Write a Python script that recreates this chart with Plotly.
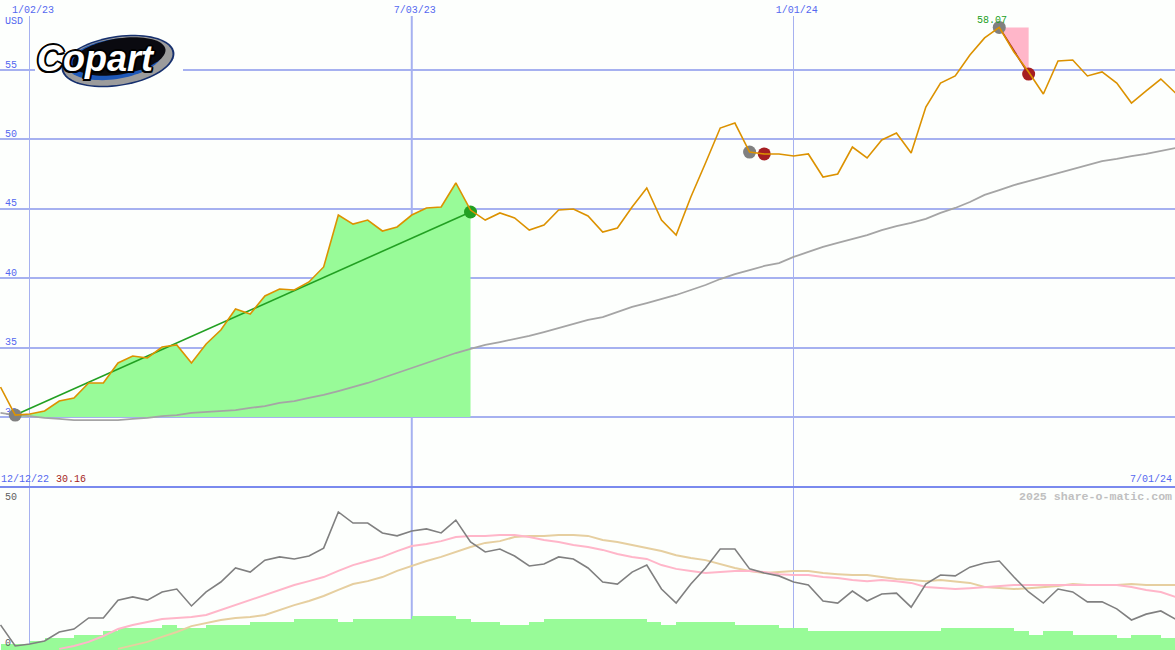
import numpy as np
import pandas as pd
import plotly.graph_objects as go

W, H = 1175, 650

dates = pd.date_range("2022-12-19", "2024-07-01", freq="7D")

price = [32.16,30.14,30.22,30.43,31.15,31.37,32.45,32.45,33.89,34.39,34.25,35.04,35.19,33.89,35.26,36.27,
         37.78,37.42,38.72,39.22,39.15,39.73,40.81,44.55,43.90,44.19,43.40,43.69,44.55,45.06,45.13,46.86,
         44.91,44.19,44.70,44.34,43.47,43.83,44.91,44.99,44.48,43.33,43.62,45.13,46.50,44.19,43.11,45.85,
         48.30,50.82,51.18,49.09,48.95,48.95,48.80,48.95,47.29,47.51,49.45,48.66,49.96,50.46,49.02,52.33,
         54.06,54.57,56.08,57.31,58.07,56.30,54.86,53.27,55.65,55.72,54.57,54.86,54.06,52.62,53.49,54.35,53.34]

long_ma = [30.29,30.14,30.07,29.93,29.86,29.78,29.78,29.78,29.78,29.86,29.93,30.07,30.14,30.29,30.36,30.43,
           30.50,30.65,30.79,31.01,31.15,31.37,31.59,31.87,32.16,32.45,32.81,33.17,33.53,33.89,34.25,34.61,
           34.90,35.19,35.40,35.62,35.84,36.12,36.41,36.70,36.99,37.20,37.56,37.93,38.21,38.50,38.79,39.15,
           39.51,39.94,40.30,40.59,40.88,41.09,41.53,41.89,42.25,42.54,42.82,43.11,43.47,43.76,43.98,44.27,
           44.70,45.06,45.49,46.00,46.35,46.71,47.00,47.29,47.58,47.87,48.16,48.44,48.59,48.80,48.95,49.16,49.38]

osc = [7.9,0.7,1.4,2.4,5.5,6.5,10.3,10.3,16.4,17.5,16.4,19.2,20.2,14.4,19.2,22.6,
       27.4,26.0,30.1,31.2,30.5,31.5,34.2,46.6,42.8,42.8,39.4,38.4,40.1,40.8,39.4,43.8,
       36.3,32.9,33.9,31.5,28.1,28.8,31.2,30.5,27.4,22.6,21.9,26.0,28.4,20.2,15.4,21.9,
       27.4,33.9,33.9,27.1,25.7,24.7,22.6,21.6,16.1,15.4,19.5,16.1,18.5,18.8,14.0,21.9,
       25.0,24.7,27.7,29.1,29.8,24.3,19.2,15.4,20.2,19.2,15.8,15.8,13.4,9.6,11.6,12.7,9.9]

osc_fast = [None,None,None,None,-0.3,0.7,2.1,4.1,6.5,7.9,8.9,9.9,10.3,10.6,11.3,13.0,
            14.7,16.4,18.2,19.9,21.6,22.9,24.3,26.4,28.4,29.8,31.2,33.2,34.9,35.6,36.6,38.0,
            38.4,38.4,38.7,38.7,38.0,37.0,36.3,35.3,34.6,33.6,32.2,31.2,30.5,28.4,27.1,26.4,
            25.7,26.0,26.4,26.4,26.0,25.3,25.0,25.0,24.3,24.0,23.3,22.9,23.3,22.9,22.3,20.9,
            20.5,20.2,20.5,20.9,21.2,21.6,21.6,21.6,21.6,21.6,21.6,21.6,21.6,20.9,19.9,19.2,17.5]

osc_slow = [None,None,None,None,None,None,None,None,-0.3,1.0,2.1,3.8,5.5,7.5,8.6,9.6,
            10.3,10.6,11.3,13.0,14.7,16.1,17.8,19.9,21.9,22.9,24.3,26.4,28.1,29.8,31.2,32.9,
            34.6,36.0,36.6,38.0,38.4,38.4,38.7,38.7,38.4,37.0,36.3,35.3,34.2,33.2,31.8,30.8,
            30.1,28.8,27.4,26.4,25.7,26.0,26.4,26.4,25.7,25.3,25.0,25.0,24.3,23.6,23.3,22.9,
            23.3,22.9,22.3,20.9,20.5,20.2,20.5,20.9,21.2,21.9,21.6,21.6,21.6,21.9,21.6,21.6,21.6]

volume = [2,2,3,4,4,5,5,6,7,7,7,8,7,7,8,8,8,9,9,9,10,10,10,9,10,10,10,10,11,11,11,10,9,9,8,8,9,
          10,10,10,10,10,10,10,9,8,9,9,9,9,8,8,8,7,7,6,6,6,6,6,6,6,6,6,7,7,7,7,7,6,5,6,6,5,5,5,4,5,5,4]

gain_start, gain_end = 30.14, 44.77
sell_start, sell_end = 58.07, 54.71
flat_start, flat_end = 49.09, 48.95
fill_floor = 30.0
idx_gain = (1, 32)
idx_flat = (51, 52)
idx_drop = (68, 70)

price_ticks = [30, 35, 40, 45, 50, 55]
osc_ticks = [0, 50]
date_ticks = ["2023-01-02", "2023-07-03", "2024-01-01"]
date_labels = ["1/02/23", "7/03/23", "1/01/24"]

FONT = "Liberation Mono"
BG = "#FDFFFD"
GRID = "#A6B1F0"
BLUE = "#5468F0"
ORANGE = "#DC9200"
GREEN = "#22A022"
RED = "#A51E22"
GREY = "#808080"
PINK = "#FFB6C9"
TAN = "#E6CFA0"
FILL = "#98FB98"

def px(x):
    return x / W

def py(y):
    return 1 - y / H

dom_split = py(487)
dom_top = py(16)
x_range = [dates[0] - pd.Timedelta(hours=6), dates[-1] - pd.Timedelta(hours=6)]

fig = go.Figure()

# gain area
fig.add_trace(go.Scatter(x=dates[idx_gain[0]:idx_gain[1] + 1], y=[fill_floor] * (idx_gain[1] - idx_gain[0] + 1),
                         mode="lines", line=dict(width=0), hoverinfo="skip", showlegend=False))
fig.add_trace(go.Scatter(x=dates[idx_gain[0]:idx_gain[1] + 1], y=price[idx_gain[0]:idx_gain[1] + 1],
                         mode="lines", line=dict(width=0), fill="tonexty", fillcolor=FILL, showlegend=False))
# loss triangles
for i0, i1, a, b in [(*idx_drop, sell_start, price[idx_drop[1]]), (*idx_flat, flat_start, flat_end)]:
    fig.add_trace(go.Scatter(x=[dates[i0], dates[i1], dates[i1]], y=[a, a, b], mode="lines",
                             line=dict(width=0), fill="toself", fillcolor=PINK, showlegend=False))
fig.add_trace(go.Scatter(x=dates, y=long_ma, mode="lines", line=dict(color="#A5A5A5", width=1.8), showlegend=False))
fig.add_trace(go.Scatter(x=[dates[idx_gain[0]], dates[idx_gain[1]]], y=[gain_start, gain_end], mode="lines",
                         line=dict(color=GREEN, width=1.6), showlegend=False))
fig.add_trace(go.Scatter(x=[dates[idx_drop[0]], dates[idx_drop[1]]], y=[sell_start, sell_end], mode="lines",
                         line=dict(color=RED, width=1.6), showlegend=False))
fig.add_trace(go.Scatter(x=[dates[idx_gain[0]], dates[idx_flat[0]], dates[idx_drop[0]]],
                         y=[gain_start, flat_start, sell_start], mode="markers",
                         marker=dict(color=GREY, size=13), showlegend=False))
fig.add_trace(go.Scatter(x=[dates[idx_flat[1]], dates[idx_drop[1]]], y=[flat_end, sell_end], mode="markers",
                         marker=dict(color=RED, size=13), showlegend=False))
fig.add_trace(go.Scatter(x=[dates[idx_gain[1]]], y=[gain_end], mode="markers",
                         marker=dict(color=GREEN, size=13), showlegend=False))
fig.add_trace(go.Scatter(x=dates, y=price, mode="lines", line=dict(color=ORANGE, width=1.6), showlegend=False))

# lower panel: volume on the base axis, oscillators on the overlay above it
fig.add_trace(go.Bar(x=dates[:-1], y=volume, width=7 * 86400000, offset=0, marker=dict(color=FILL, line=dict(width=0)),
                     xaxis="x2", yaxis="y2", showlegend=False))
fig.add_trace(go.Scatter(x=dates, y=osc_slow, mode="lines", line=dict(color=TAN, width=2), xaxis="x2", yaxis="y3", showlegend=False))
fig.add_trace(go.Scatter(x=dates, y=osc_fast, mode="lines", line=dict(color=PINK, width=2), xaxis="x2", yaxis="y3", showlegend=False))
fig.add_trace(go.Scatter(x=dates, y=osc, mode="lines", line=dict(color=GREY, width=1.6), xaxis="x2", yaxis="y3", showlegend=False))

fig.update_layout(
    width=W, height=H, margin=dict(l=0, r=0, t=0, b=0),
    paper_bgcolor=BG, plot_bgcolor=BG, showlegend=False, bargap=0,
    font=dict(family=FONT, size=10, color=BLUE),
    xaxis=dict(domain=[0, 1], anchor="y", side="top", range=x_range, type="date",
               tickvals=date_ticks, ticktext=date_labels, ticks="", showgrid=True, gridcolor=GRID, gridwidth=1,
               ticklabelshift=3, tickfont=dict(family=FONT, size=10, color=BLUE), zeroline=False, showline=False),
    xaxis2=dict(domain=[0, 1], anchor="y2", matches="x", type="date", tickvals=date_ticks, showticklabels=False,
                ticks="", showgrid=True, gridcolor=GRID, gridwidth=1, zeroline=False, showline=False),
    yaxis=dict(domain=[dom_split, dom_top], anchor="x", range=[30 - 70 / 13.88, 30 + 401 / 13.88],
               tickvals=price_ticks, ticktext=[str(v) for v in price_ticks], ticks="", ticklabelposition="inside",
               ticklabelshift=-6, ticklabelstandoff=2, layer="below traces",
               showgrid=True, gridcolor=GRID, gridwidth=2, zeroline=False, showline=False,
               tickfont=dict(family=FONT, size=10, color=BLUE)),
    yaxis2=dict(domain=[0, dom_split], anchor="x2", range=[0, 163 / 3.1], visible=False),
    yaxis3=dict(domain=[0, dom_split], anchor="x2", overlaying="y2", range=[-0.68, 55.14], tickvals=osc_ticks,
                ticktext=[str(v) for v in osc_ticks], ticks="", ticklabelposition="inside", ticklabelshift=-6,
                ticklabelstandoff=2, showgrid=False, zeroline=False, showline=False,
                tickfont=dict(family=FONT, size=10, color="#606060")),
)

shapes = [
    dict(type="line", xref="x", yref="paper", x0=date_ticks[1], x1=date_ticks[1], y0=0, y1=dom_top,
         line=dict(color=GRID, width=2), layer="below"),
    dict(type="line", xref="paper", yref="paper", x0=0, x1=1, y0=dom_split, y1=dom_split,
         line=dict(color="#7A8AEE", width=2), layer="above"),
    dict(type="rect", xref="paper", yref="paper", x0=px(35), x1=px(183), y0=py(87), y1=py(36),
         fillcolor=BG, line=dict(width=0), layer="above"),
]

def ellipse(cx, cy, rx, ry, rot, color, a0=0, a1=2 * np.pi):
    t = np.linspace(a0, a1, 80)
    r = np.deg2rad(rot)
    xs = cx + rx * np.cos(t) * np.cos(r) - ry * np.sin(t) * np.sin(r)
    ys = cy + rx * np.cos(t) * np.sin(r) + ry * np.sin(t) * np.cos(r)
    d = "M " + " L ".join(f"{px(a):.5f},{py(b):.5f}" for a, b in zip(xs, ys)) + " Z"
    return dict(type="path", xref="paper", yref="paper", path=d, fillcolor=color, line=dict(width=0), layer="above")

shapes += [
    ellipse(118, 61, 57, 25, -9, "#16306E"),
    ellipse(118, 61, 55, 23.5, -9, "#9C9C9C"),
    ellipse(115, 59, 48, 20, -9, "#1E58B8"),
    ellipse(119, 56.5, 47, 18, -9, "#0A0A10"),
]
fig.update_layout(shapes=shapes)

ann = dict(xref="paper", yref="paper", showarrow=False, font=dict(family=FONT, size=10, color=BLUE))
outline = "-1.5px -1.5px 0 #000,1.5px -1.5px 0 #000,-1.5px 1.5px 0 #000,1.5px 1.5px 0 #000,0 2px 0 #000,2px 0 0 #000,-2px 0 0 #000,0 -2px 0 #000"
annotations = [
    dict(ann, x=px(3), y=py(21.5), text="USD", xanchor="left", yanchor="middle"),
    dict(ann, x=px(-1), y=py(479), text="12/12/22", xanchor="left", yanchor="middle"),
    dict(ann, x=px(54), y=py(479), text="30.16", xanchor="left", yanchor="middle",
         font=dict(family=FONT, size=10, color=RED)),
    dict(ann, x=px(1174), y=py(479), text="7/01/24", xanchor="right", yanchor="middle"),
    dict(ann, x=px(1174), y=py(496), text="2025 share-o-matic.com", xanchor="right", yanchor="middle",
         font=dict(family=FONT, size=11.6, color="#C0C0C0", weight="bold")),
    dict(xref="x", yref="y", x=dates[idx_drop[0]], y=sell_start, text="58.07", showarrow=False, xshift=-7, yshift=7,
         font=dict(family=FONT, size=10, color=GREEN)),
    dict(ann, x=px(96), y=py(59), text="Copart", xanchor="center", yanchor="middle",
         font=dict(family="Liberation Sans", size=36, color="#FFFFFF", weight="bold", style="italic", shadow=outline)),
]
fig.update_layout(annotations=annotations)

fig.write_html("out.html", config=dict(displayModeBar=False),
               post_script="document.body.style.margin='0';document.body.style.overflow='hidden';")
